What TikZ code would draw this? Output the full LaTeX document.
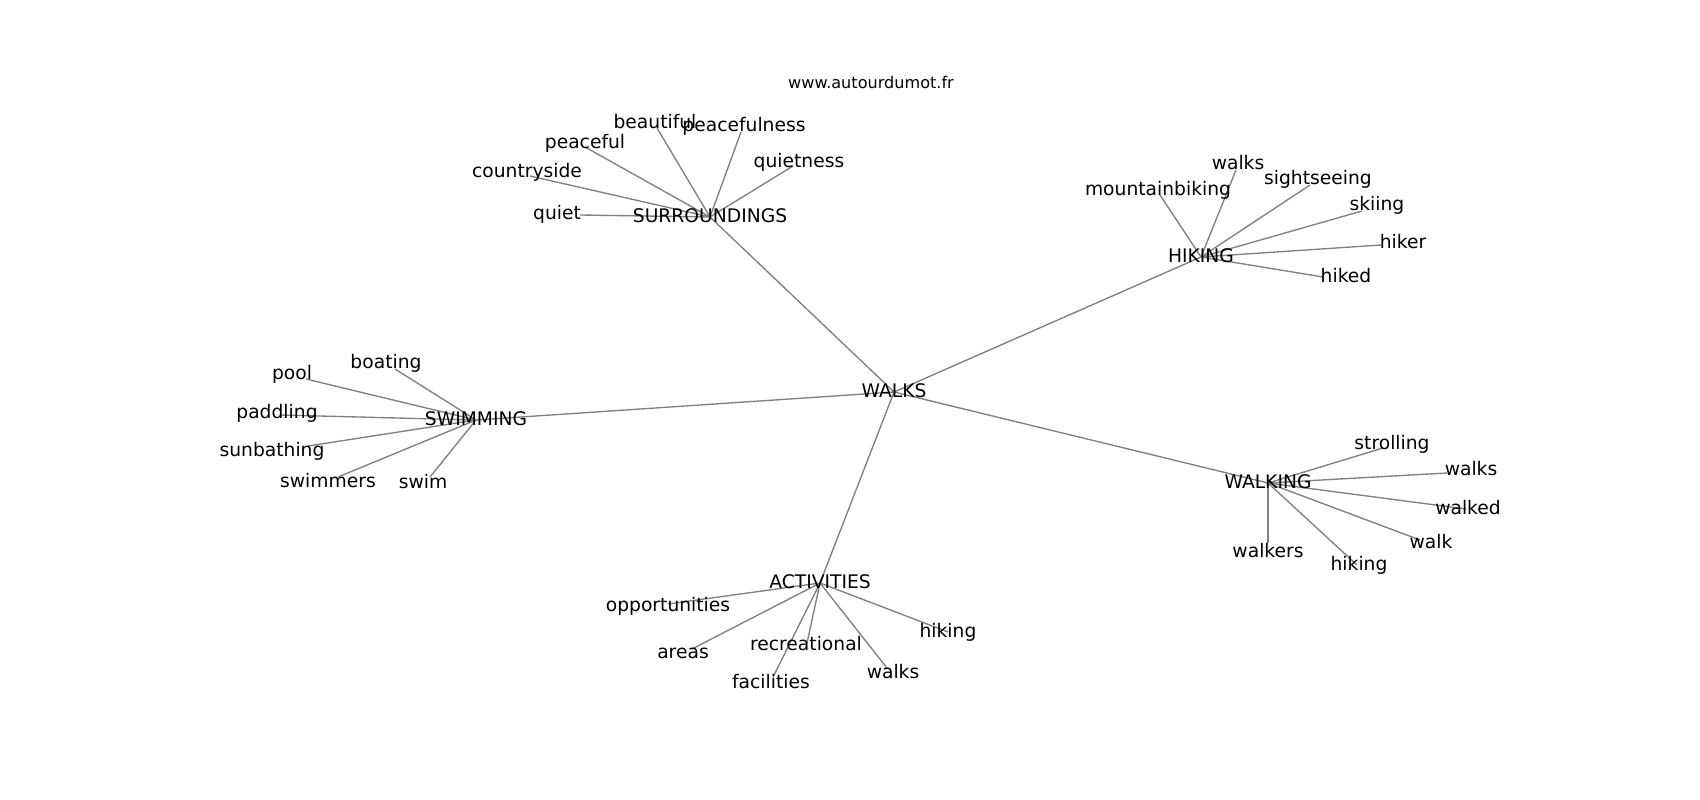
\documentclass[tikz,border=0pt]{standalone}
\usepackage{fontspec}
\setmainfont{DejaVu Sans}
\usetikzlibrary{backgrounds}
\tikzset{
  word/.style={inner sep=0pt, outer sep=0pt, text height=1.245em, text depth=0.24em, font=\fontsize{18.7}{20}\selectfont, text=black},
  url/.style={inner sep=0pt, outer sep=0pt, text height=1.245em, text depth=0.24em, font=\fontsize{16.1}{18}\selectfont, text=black},
  edge/.style={draw=black!50, line width=1.35pt}
}
\begin{document}
\begin{tikzpicture}[x=1pt,y=-1pt]
\useasboundingbox (0,0) rectangle (1700,800);
\node[url] (urltxt) at (871,83) {www.autourdumot.fr};
% hubs
\node[word] (walks) at (894,392) {WALKS};
\node[word] (sur) at (710,217) {SURROUNDINGS};
\node[word] (hik) at (1201,257) {HIKING};
\node[word] (swi) at (476,420) {SWIMMING};
\node[word] (wlk) at (1268,483) {WALKING};
\node[word] (act) at (820,583) {ACTIVITIES};
% SURROUNDINGS leaves
\coordinate (s1) at (580,215); \node[word] (s1t) at (557,214) {quiet};
\coordinate (s2) at (530,176); \node[word] (s2t) at (527,172) {countryside};
\coordinate (s3) at (585,147); \node[word] (s3t) at (585,143) {peaceful};
\coordinate (s4) at (657,128); \node[word] (s4t) at (655,123) {beautiful};
\coordinate (s5) at (741,132); \node[word] (s5t) at (744,126) {peacefulness};
\coordinate (s6) at (793,166); \node[word] (s6t) at (799,162) {quietness};
% HIKING leaves
\coordinate (h1) at (1160,195); \node[word] (h1t) at (1158,190) {mountainbiking};
\coordinate (h2) at (1236,170); \node[word] (h2t) at (1238,164) {walks};
\coordinate (h3) at (1310,185); \node[word] (h3t) at (1318,179) {sightseeing};
\coordinate (h4) at (1362,211); \node[word] (h4t) at (1377,205) {skiing};
\coordinate (h5) at (1381,245); \node[word] (h5t) at (1403,243) {hiker};
\coordinate (h6) at (1323,277); \node[word] (h6t) at (1346,277) {hiked};
% SWIMMING leaves
\coordinate (w1) at (395,369); \node[word] (w1t) at (386,363) {boating};
\coordinate (w2) at (306,379); \node[word] (w2t) at (292,374) {pool};
\coordinate (w3) at (280,415); \node[word] (w3t) at (277,413) {paddling};
\coordinate (w4) at (308,446); \node[word] (w4t) at (272,451) {sunbathing};
\coordinate (w5) at (338,477); \node[word] (w5t) at (328,482) {swimmers};
\coordinate (w6) at (430,477); \node[word] (w6t) at (423,483) {swim};
% WALKING leaves
\coordinate (k1) at (1383,448); \node[word] (k1t) at (1392,444) {strolling};
\coordinate (k2) at (1447,473); \node[word] (k2t) at (1471,470) {walks};
\coordinate (k3) at (1466,509); \node[word] (k3t) at (1468,509) {walked};
\coordinate (k4) at (1420,540); \node[word] (k4t) at (1431,543) {walk};
\coordinate (k5) at (1357,565); \node[word] (k5t) at (1359,565) {hiking};
\coordinate (k6) at (1268,543); \node[word] (k6t) at (1268,552) {walkers};
% ACTIVITIES leaves
\coordinate (a1) at (668,604); \node[word] (a1t) at (668,606) {opportunities};
\coordinate (a2) at (692,649); \node[word] (a2t) at (683,653) {areas};
\coordinate (a3) at (807,643); \node[word] (a3t) at (806,645) {recreational};
\coordinate (a4) at (773,677); \node[word] (a4t) at (771,683) {facilities};
\coordinate (a5) at (887,668); \node[word] (a5t) at (893,673) {walks};
\coordinate (a6) at (948,632); \node[word] (a6t) at (948,632) {hiking};
\begin{pgfonlayer}{background}
\foreach \h in {sur,hik,swi,wlk,act} \draw[edge] (walks.center) -- (\h.center);
\foreach \c in {s1,s2,s3,s4,s5,s6} \draw[edge] (sur.center) -- (\c);
\foreach \c in {h1,h2,h3,h4,h5,h6} \draw[edge] (hik.center) -- (\c);
\foreach \c in {w1,w2,w3,w4,w5,w6} \draw[edge] (swi.center) -- (\c);
\foreach \c in {k1,k2,k3,k4,k5,k6} \draw[edge] (wlk.center) -- (\c);
\foreach \c in {a1,a2,a3,a4,a5,a6} \draw[edge] (act.center) -- (\c);
\end{pgfonlayer}
\end{tikzpicture}
\end{document}
